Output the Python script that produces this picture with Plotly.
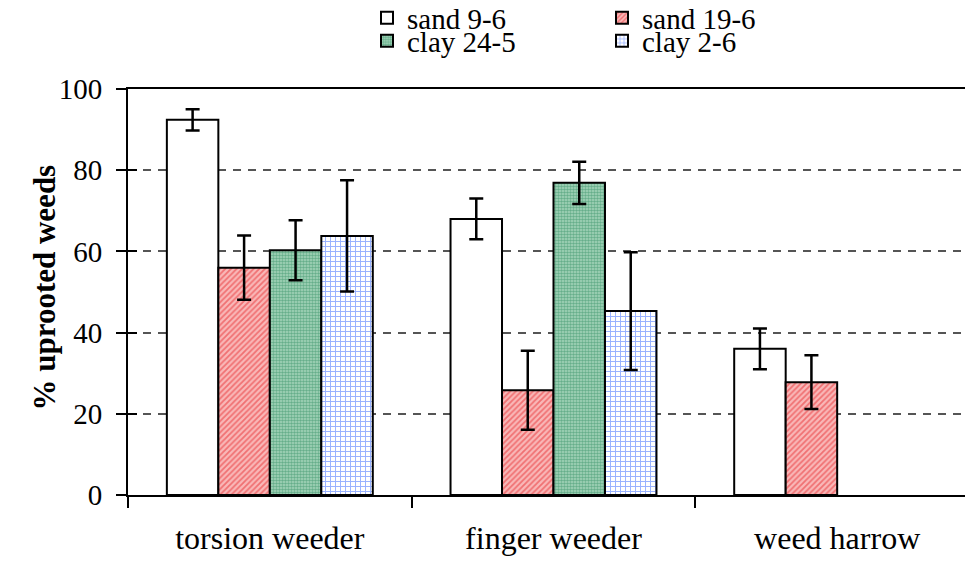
import plotly.graph_objects as go

categories = ["torsion weeder", "finger weeder", "weed harrow"]
series_names = ["sand 9-6", "sand 19-6", "clay 24-5", "clay 2-6"]
sand_9_6 = [92.4, 68.0, 36.0]
sand_9_6_err = [2.6, 5.0, 5.0]
sand_19_6 = [56.0, 25.8, 27.8]
sand_19_6_err = [7.9, 9.7, 6.6]
clay_24_5 = [60.3, 76.9, None]
clay_24_5_err = [7.4, 5.2, None]
clay_2_6 = [63.8, 45.3, None]
clay_2_6_err = [13.7, 14.5, None]
y_ticks = [0, 20, 40, 60, 80, 100]

FONT = "Liberation Serif"
W, H = 973, 562
L, R, T, B = 120, 2, 81, 75

styles = [
    dict(color="white", pattern=None),
    dict(color="#f9b8b8", pattern=dict(shape="/", fgcolor="#e8282c", size=4, solidity=0.45, fillmode="overlay")),
    dict(color="#a8d6bc", pattern=dict(shape=".", fgcolor="#23865a", size=3, solidity=0.55, fillmode="overlay")),
    dict(color="white", pattern=dict(shape="+", fgcolor="#2f62ff", size=5, solidity=0.35, fillmode="overlay")),
]
values = [sand_9_6, sand_19_6, clay_24_5, clay_2_6]
errors = [sand_9_6_err, sand_19_6_err, clay_24_5_err, clay_2_6_err]
legends = ["legend", "legend", "legend2", "legend2"]

fig = go.Figure()
for name, v, e, st, lg in zip(series_names, values, errors, styles, legends):
    marker = dict(color=st["color"], line=dict(color="black", width=2))
    if st["pattern"]:
        marker["pattern"] = st["pattern"]
    fig.add_trace(go.Bar(
        name=name, x=categories, y=v,
        error_y=dict(type="data", array=e, visible=True, color="black", thickness=2.5, width=7),
        marker=marker, legend=lg,
    ))

# dummy trace for inside y ticks
fig.add_trace(go.Scatter(x=[], y=[], yaxis="y2", showlegend=False))

leg_common = dict(
    orientation="h", xref="container", yref="container", xanchor="left", yanchor="middle",
    entrywidth=190, entrywidthmode="pixels",
    font=dict(family=FONT, size=29, color="black"), bgcolor="rgba(0,0,0,0)",
)

fig.update_layout(
    template="none",
    width=W, height=H,
    margin=dict(l=L, r=R, t=T, b=B, autoexpand=False),
    paper_bgcolor="white", plot_bgcolor="white",
    barmode="group", bargap=0.274, bargroupgap=0,
    font=dict(family=FONT, size=29, color="black"),
    xaxis=dict(
        type="category", range=[-0.5, 2.5],
        showline=True, linecolor="black", linewidth=2, mirror=True,
        ticks="outside", tickson="boundaries", ticklen=11, tickwidth=2, tickcolor="black",
        tickfont=dict(family=FONT, size=32), showgrid=False, automargin=False,
        ticklabelstandoff=14,
    ),
    yaxis=dict(
        range=[0, 100], tickvals=y_ticks,
        showline=True, linecolor="black", linewidth=2,
        ticks="outside", ticklen=10, tickwidth=2, tickcolor="black",
        tickfont=dict(family=FONT, size=29),
        showgrid=True, gridcolor="#555555", gridwidth=1.5, griddash="8px,7px",
        zeroline=False, automargin=False, ticklabelstandoff=8,
    ),
    yaxis2=dict(
        range=[0, 100], tickvals=y_ticks, overlaying="y", side="left", anchor="x",
        ticks="inside", ticklen=9, tickwidth=2, tickcolor="black",
        showticklabels=False, showgrid=False, showline=False, zeroline=False,
    ),
    legend=dict(x=359 / W, y=1 - 10 / H, **leg_common),
    legend2=dict(x=359 / W, y=1 - 33 / H, **leg_common),
    annotations=[dict(
        text="<b>% uprooted weeds</b>", textangle=-90,
        xref="paper", yref="paper", x=(37 - L) / (W - L - R), y=0.511,
        xanchor="center", yanchor="middle", showarrow=False,
        font=dict(family=FONT, size=31, color="black"),
    )],
)

fig.write_html("out.html")
